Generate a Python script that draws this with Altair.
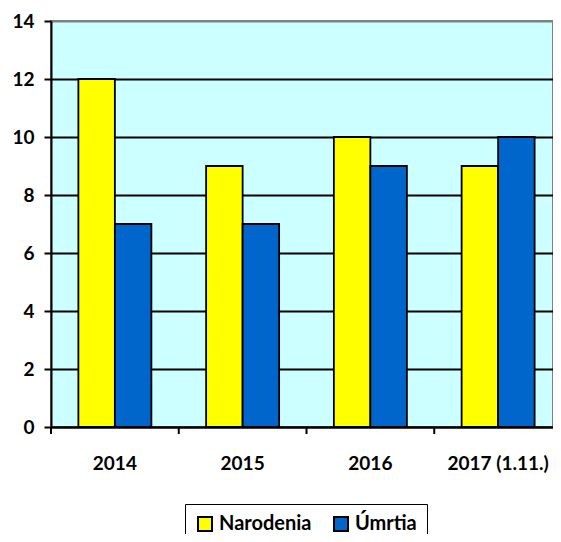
import altair as alt
import pandas as pd

years = ["2014", "2015", "2016", "2017 (1.11.)"]
narodenia = [12, 9, 10, 9]
umrtia = [7, 7, 9, 10]
series = ["Narodenia", "Úmrtia"]
colors = ["#FFFF00", "#0066CC"]
y_ticks = [0, 2, 4, 6, 8, 10, 12, 14]

rows = []
for i, y in enumerate(years):
    rows.append({"rok": y, "typ": series[0], "pocet": narodenia[i]})
    rows.append({"rok": y, "typ": series[1], "pocet": umrtia[i]})
df = pd.DataFrame(rows)
ticks_df = pd.DataFrame({"rok": years})

FONT = "Lato"

x_scale = alt.Scale(domain=years, paddingInner=0, paddingOuter=0, range=[0, 511])

bars = alt.Chart(df).mark_bar(stroke="black", strokeWidth=1.8).encode(
    x=alt.X("rok:N", scale=x_scale, sort=years,
            axis=alt.Axis(title=None, labelAngle=0, ticks=False, labelPadding=27,
                          labelFont=FONT, labelFontSize=19, labelFontWeight="bold",
                          labelColor="black", domainColor="black", domainWidth=2)),
    xOffset=alt.XOffset("typ:N", sort=series,
                        scale=alt.Scale(domain=series, paddingInner=0, paddingOuter=0.75)),
    y=alt.Y("pocet:Q", scale=alt.Scale(domain=[0, 14], nice=False),
            axis=alt.Axis(title=None, values=y_ticks, tickSize=7, tickColor="black",
                          tickWidth=2, labelPadding=10,
                          labelFont=FONT, labelFontSize=19, labelFontWeight="bold",
                          labelColor="black", domainColor="black", domainWidth=2,
                          grid=True, gridWidth=2,
                          gridColor=alt.condition(alt.datum.value == 14,
                                                  alt.value("#808080"),
                                                  alt.value("black")))),
    color=alt.Color("typ:N", sort=series,
                    scale=alt.Scale(domain=series, range=colors),
                    legend=alt.Legend(title=None, orient="none", direction="horizontal",
                                      legendX=134, legendY=483,
                                      symbolType="square", symbolSize=196,
                                      symbolStrokeColor="black", symbolStrokeWidth=2,
                                      symbolOpacity=1,
                                      labelFont=FONT, labelFontSize=20,
                                      labelFontWeight="bold", labelColor="black",
                                      labelOffset=4, columnPadding=18,
                                      strokeColor="black", padding=10,
                                      fillColor="white")),
)

tick_marks = alt.Chart(ticks_df).mark_rule(color="black", strokeWidth=2).encode(
    x=alt.X("rok:N", scale=x_scale, sort=years, bandPosition=0),
    y=alt.value(406),
    y2=alt.value(413),
)

chart = alt.layer(bars, tick_marks).properties(
    width=502,
    height=406,
    background="white",
    autosize=alt.AutoSizeParams(type="none"),
    padding={"left": 43, "top": 13, "right": 0, "bottom": 107},
).configure_view(
    fill="#CCFFFF",
    stroke="#808080",
    strokeWidth=2,
)

chart.save("out.html", embed_options={"renderer": "svg", "actions": False})
